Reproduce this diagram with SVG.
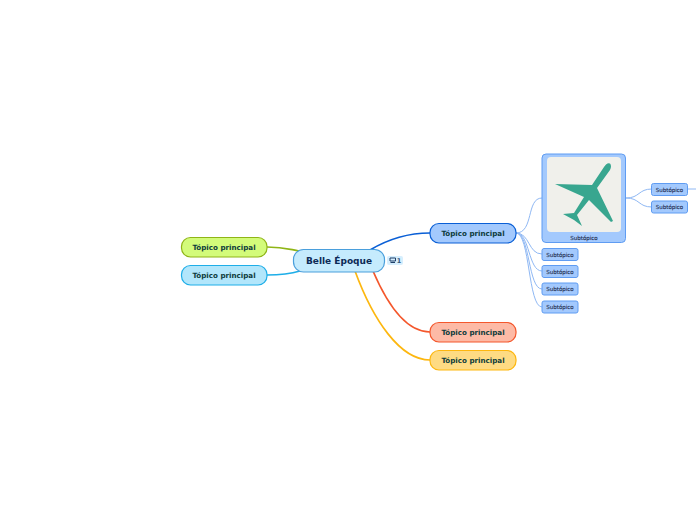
<svg xmlns="http://www.w3.org/2000/svg" width="696" height="520" viewBox="0 0 696 520">
<style>
text{font-family:"DejaVu Sans",Verdana,sans-serif;text-anchor:middle}
.t{font-size:7.15px;font-weight:700;fill:#0d3b3b}
.s{font-size:5.5px;fill:#1f2d50;stroke:#1f2d50;stroke-width:.12}
.sb{fill:#a3c9fd;stroke:#5f9cf2;stroke-width:1}
.c{fill:none;stroke-width:1.7}
.l{fill:none;stroke:#8fb8f4;stroke-width:1}
.p{stroke-width:1.2}
</style>
<rect width="696" height="520" fill="#fff"/>
<g id="connectors">
<path class="c" stroke="#8fb516" d="M267 247C283 247 288 249 299 251"/>
<path class="c" stroke="#1eaee8" d="M267 275C282 275 290 274 300 271"/>
<path class="c" stroke="#0a5fd6" d="M370 250C390 238 408 233 430 233"/>
<path class="c" stroke="#f4572c" d="M373 271C388 306 407 332 430 332"/>
<path class="c" stroke="#fdb70f" d="M355 271C373 320 400 360 430 360"/>
<path class="l" d="M516 233C534 233 526 198 542 198"/>
<path class="l" d="M516 233C530 233 528 254 542 254"/>
<path class="l" d="M516 233C530 233 528 271 542 271"/>
<path class="l" d="M516 233C530 233 528 289 542 289"/>
<path class="l" d="M516 233C530 233 528 307 542 307"/>
<path class="l" d="M626 198C640 198 638 189 652 189"/>
<path class="l" d="M626 198C640 198 638 207 652 207"/>
<path class="l" d="M688 189H696"/>
</g>
<g id="t1"><rect class="p" x="181.500" y="237.500" width="85.500" height="19.500" rx="9" fill="#d3fb7a" stroke="#8fb516"/><text class="t" x="224" y="250">Tópico principal</text></g>
<g id="t2"><rect class="p" x="181.500" y="265.500" width="85.500" height="19.500" rx="9" fill="#b2e6fb" stroke="#1eaee8"/><text class="t" x="224" y="278">Tópico principal</text></g>
<g id="root"><rect class="p" x="293.500" y="249.500" width="91" height="22.500" rx="10" fill="#c5ebfd" stroke="#4a9fdc"/><text x="339" y="264" font-size="9" font-weight="700" fill="#0c2a56">Belle Époque</text></g>
<g id="badge"><rect x="387" y="256" width="16" height="9" rx="2" fill="#d6eefd"/><text x="399" y="263" font-size="6.500" font-weight="700" fill="#33587e">1</text><path d="M390 258h5.500v3h-5.500zM390.500 262.500h4.500" fill="none" stroke="#1f3f68" stroke-width="1"/></g>
<g id="t3"><rect class="p" x="430" y="223.500" width="86" height="19.500" rx="9" fill="#a3c9fd" stroke="#0a5fd6"/><text class="t" x="473" y="236">Tópico principal</text></g>
<g id="t4"><rect class="p" x="430" y="322.500" width="86" height="19.500" rx="9" fill="#fdbaa6" stroke="#f4572c"/><text class="t" x="473" y="335">Tópico principal</text></g>
<g id="t5"><rect class="p" x="430" y="350.500" width="86" height="19.500" rx="9" fill="#fedb83" stroke="#fdb70f"/><text class="t" x="473" y="363">Tópico principal</text></g>
<g id="img"><rect x="542" y="154" width="83.500" height="88.500" rx="4" class="sb"/><rect x="547" y="157" width="74" height="75" rx="4" fill="#f0f0eb"/>
<path fill="#38a68f" d="M555 184L592 185L604 167Q607 162 610 163.500Q612 166 610 170L597 188L613 221L611 222L589 200L577 215L582 226L574 220L563 214L574 213L584 197Z"/>
<text class="s" x="584" y="239.500">Subtópico</text></g>
<g id="s1"><rect x="542" y="248.500" width="36" height="12" rx="2" class="sb"/><text class="s" x="560" y="256.500">Subtópico</text></g>
<g id="s2"><rect x="542" y="265.500" width="36" height="12" rx="2" class="sb"/><text class="s" x="560" y="274">Subtópico</text></g>
<g id="s3"><rect x="542" y="283" width="36" height="12" rx="2" class="sb"/><text class="s" x="560" y="291">Subtópico</text></g>
<g id="s4"><rect x="542" y="301" width="36" height="12" rx="2" class="sb"/><text class="s" x="560" y="309">Subtópico</text></g>
<g id="s5"><rect x="651.500" y="183.500" width="36" height="12" rx="2" class="sb"/><text class="s" x="669.500" y="192">Subtópico</text></g>
<g id="s6"><rect x="651.500" y="201" width="36" height="12" rx="2" class="sb"/><text class="s" x="669.500" y="209">Subtópico</text></g>
</svg>
